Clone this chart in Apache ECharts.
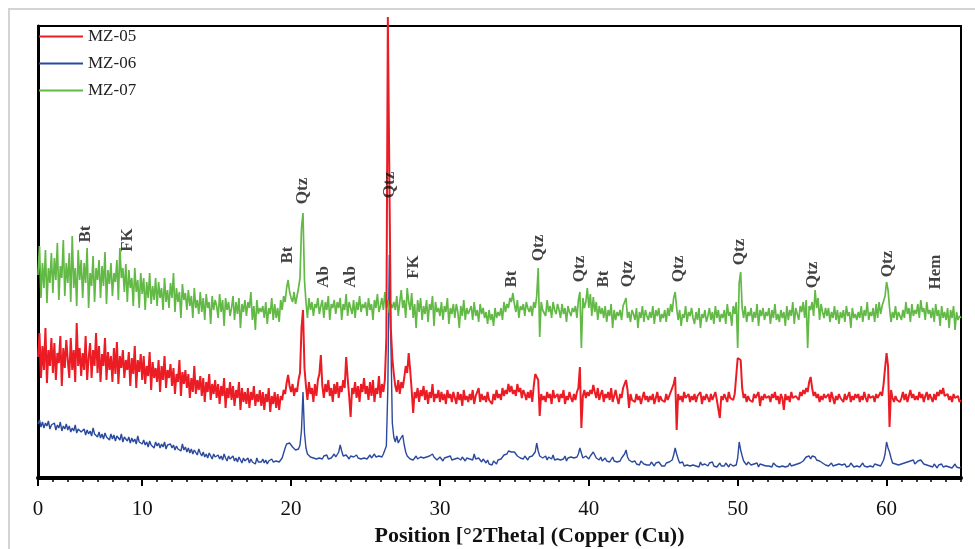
<!DOCTYPE html>
<html>
<head>
<meta charset="utf-8">
<script src="https://cdn.jsdelivr.net/npm/echarts@6/dist/echarts.min.js"></script>
<style>html,body{margin:0;padding:0;background:#fff}#c{width:975px;height:549px}</style>
</head>
<body>
<div id="c"></div>
<script>
// 2θ sampling grid (degrees)
const thetaStart = 3;
const thetaStep = 0.1;

// Intensities (arbitrary, offset-stacked), one row per degree (x.0 … x.9)
const mz06 = [
54,58,51,56,50,55,52,57,49,53,
51,55,48,53,50,56,47,52,49,54,
48,52,46,50,47,53,45,49,51,46,
45,49,43,48,44,47,42,50,44,46,
41,46,40,44,39,45,41,43,38,44,
39,43,37,42,40,38,44,36,41,39,
37,41,35,40,36,39,34,42,36,38,
34,38,33,36,31,37,33,35,30,36,
32,35,30,34,31,36,29,33,31,34,
30,33,28,32,29,31,27,34,28,31,
26,30,25,29,24,28,26,23,29,25,
22,26,21,24,20,25,22,19,24,21,
20,23,19,22,18,24,20,17,22,19,
18,22,17,20,16,21,18,15,20,17,
17,20,15,19,16,18,14,20,16,18,
16,19,15,18,14,17,15,19,16,18,
17,19,16,18,20,25,30,34,36,35,
33,31,29,28,27,29,33,48,86,45,
30,24,22,21,23,20,22,19,21,20,
21,19,22,20,23,19,21,20,22,24,
21,23,26,33,27,22,20,23,21,19,
22,20,21,19,23,20,22,19,21,20,
22,19,21,23,20,22,24,21,19,22,
23,21,24,28,32,90,223,140,55,41,
36,42,35,38,40,43,33,26,22,20,
19,21,18,20,22,19,17,21,19,20,
18,21,19,22,20,24,21,19,18,20,
21,19,17,20,18,21,19,22,18,20,
19,17,20,22,18,21,19,17,20,18,
19,21,18,24,19,17,20,18,16,19,
17,15,18,14,16,13,17,15,14,18,
16,19,21,23,25,24,27,25,26,24,
26,24,22,23,20,21,19,22,20,18,
21,19,22,20,26,35,27,22,21,20,
19,22,18,21,20,19,23,18,20,19,
21,18,20,19,22,17,20,18,21,19,
20,18,21,24,30,25,20,19,22,21,
19,22,24,26,23,20,19,18,21,17,
18,20,17,19,16,18,21,17,19,16,
18,17,20,22,24,28,21,18,19,16,
15,17,14,16,13,17,15,14,16,13,
15,13,16,14,12,15,13,16,14,12,
14,12,15,13,16,14,18,23,30,24,
19,15,13,16,12,14,13,15,12,14,
13,15,12,14,11,16,13,12,14,13,
12,15,13,16,12,14,11,13,15,12,
14,12,15,13,11,14,16,12,14,13,
20,36,28,22,17,15,13,16,14,13,
12,14,13,15,11,14,12,13,15,12,
14,12,13,11,15,13,12,14,11,13,
12,14,11,13,12,15,12,14,13,12,
14,13,15,14,17,19,21,20,22,19,
22,20,21,18,19,17,16,15,14,13,
14,12,13,15,12,14,13,11,14,12,
13,12,14,11,13,12,15,13,11,13,
12,14,11,13,15,12,14,11,13,12,
13,11,14,12,13,15,12,14,18,24,
36,30,26,20,15,13,14,12,13,15,
14,12,15,13,16,14,17,15,18,14,
16,17,15,18,16,14,15,13,14,12,
13,11,14,12,10,13,12,14,11,13,
12,14,11,13,10,12,14,11,13,10,
11];

const mz05 = [
121,145,100,132,108,150,95,128,112,140,
105,135,98,125,115,142,92,130,110,138,
118,100,140,108,128,96,155,112,130,102,
125,108,142,98,120,135,100,128,112,145,
105,132,96,124,112,140,98,126,108,122,
96,130,104,136,94,122,110,128,100,118,
108,126,92,120,104,132,90,118,106,124,
98,122,94,112,102,126,88,116,100,110,
96,118,86,112,98,122,90,108,100,114,
92,110,84,104,96,118,82,106,94,108,
90,104,80,100,86,112,84,98,88,102,
82,100,76,96,86,104,78,94,84,98,
80,94,74,92,82,100,70,90,80,96,
78,92,72,88,80,96,68,90,76,86,
74,90,70,86,78,92,72,84,76,88,
72,86,68,84,76,90,66,82,74,86,
70,84,68,82,78,88,84,95,103,92,
86,94,82,90,86,98,105,150,168,110,
92,78,96,84,90,76,94,82,98,104,
123,92,80,94,86,98,82,90,76,94,
84,96,80,92,86,98,90,121,100,82,
61,90,84,96,80,92,76,94,86,100,
84,92,78,96,82,98,76,90,84,102,
80,94,86,98,140,461,461,150,120,104,
92,86,98,84,96,90,100,112,105,125,
108,88,65,86,80,90,76,88,82,92,
78,88,74,86,80,94,76,84,80,88,
76,86,78,84,74,88,80,84,76,86,
80,74,86,78,84,72,88,78,82,76,
84,78,88,74,82,80,90,76,84,78,
82,76,86,78,80,74,84,78,88,80,
84,78,90,82,88,84,94,86,92,84,
88,82,94,86,90,80,88,84,78,86,
80,88,76,92,104,105,98,62,84,78,
82,76,86,80,84,74,88,80,78,84,
76,84,80,88,74,82,78,86,80,76,
84,78,86,90,111,50,82,88,80,86,
82,88,84,93,86,80,90,78,84,88,
76,84,80,86,78,90,76,82,88,80,
74,84,80,90,92,98,88,70,84,78,
80,76,84,78,82,74,80,86,78,82,
76,82,78,84,74,80,86,76,82,78,
80,76,84,78,82,86,88,94,101,48,
84,78,82,76,86,80,78,84,76,82,
78,84,76,82,80,86,74,82,78,84,
80,76,84,78,82,86,78,80,60,82,
78,84,80,76,86,80,82,78,84,86,
120,120,118,90,80,84,76,82,78,80,
76,84,80,78,86,72,82,78,84,80,
78,82,76,84,80,86,78,82,74,84,
80,68,84,78,82,76,86,80,78,82,
84,78,86,82,88,84,90,86,96,101,
90,82,86,80,84,76,82,78,84,80,
78,84,76,86,80,74,82,78,84,80,
82,76,84,78,80,86,76,82,78,84,
80,84,76,82,78,86,80,76,84,80,
78,82,76,84,80,78,86,82,94,110,
125,112,51,88,80,76,82,78,80,76,
80,86,78,84,76,82,88,80,84,78,
82,78,86,80,84,76,82,86,78,84,
80,76,84,78,86,82,88,84,90,82,
80,84,78,82,76,84,80,78,82,76,
78];

const mz07 = [
203,232,180,215,190,228,175,210,195,225,
185,220,198,235,178,212,200,238,182,215,
195,225,176,242,190,210,172,228,198,218,
180,215,195,230,170,205,192,222,176,210,
198,218,180,212,192,226,174,208,194,215,
182,205,196,218,178,230,200,210,186,214,
176,208,190,200,172,210,186,198,170,205,
184,200,168,196,180,205,174,192,178,200,
172,196,180,190,168,200,176,188,170,195,
180,205,166,190,176,186,160,194,178,185,
168,188,172,182,160,190,170,178,164,186,
166,180,158,184,170,176,154,182,168,178,
172,160,184,166,178,152,180,168,176,162,
170,182,158,176,164,180,150,174,166,178,
162,176,170,186,158,172,148,178,164,170,
166,172,160,176,154,170,164,180,158,174,
160,170,156,178,168,182,176,190,198,186,
180,176,186,174,182,190,200,250,265,198,
176,160,180,168,176,162,174,170,180,164,
172,178,160,176,168,182,158,174,170,178,
164,176,170,180,158,174,168,184,162,176,
170,164,178,160,176,168,182,166,174,170,
176,162,180,168,174,158,178,170,184,166,
172,180,168,186,170,178,165,174,170,176,
168,182,162,176,188,170,178,160,190,176,
168,185,160,174,150,178,166,180,158,172,
164,178,156,174,168,182,152,176,166,170,
162,176,158,172,166,180,154,170,164,174,
160,174,166,150,172,162,178,158,170,164,
166,172,158,176,162,168,156,174,164,170,
160,166,154,168,158,164,152,170,160,166,
162,170,158,176,166,174,170,180,176,185,
174,166,178,160,172,168,174,162,176,170,
166,172,162,176,170,182,210,141,176,168,
170,162,178,166,172,160,176,168,164,174,
168,160,174,164,170,156,172,166,162,170,
166,172,160,178,186,130,180,170,176,190,
170,184,162,181,166,176,158,172,164,170,
160,172,156,168,162,174,150,168,158,166,
162,168,158,172,170,180,160,166,156,168,
164,158,170,150,166,160,172,156,168,162,
158,166,160,172,154,168,162,170,156,164,
160,168,156,170,162,174,166,180,186,170,
158,168,152,164,160,172,156,166,162,170,
160,154,166,158,170,150,164,160,168,156,
162,170,158,166,154,172,160,168,156,164,
160,168,154,174,162,166,152,172,164,176,
130,195,206,170,160,172,156,166,162,170,
156,166,160,174,152,168,162,170,158,166,
162,170,154,168,160,174,158,164,156,168,
160,166,152,172,158,168,162,176,154,170,
164,158,172,166,176,160,178,130,172,168,
176,162,188,170,180,158,174,166,160,170,
162,170,156,166,160,172,158,168,154,166,
160,168,156,172,162,166,150,170,160,164,
158,166,160,172,156,168,162,176,158,166,
162,170,156,174,160,176,164,172,170,182,
196,188,170,156,166,160,172,158,166,162,
158,168,160,176,164,170,156,174,162,168,
164,174,160,178,166,170,158,176,164,168,
160,170,156,174,162,168,152,172,160,166,
158,170,150,168,160,172,148,166,158,162,
160];

const seriesNames = ['MZ-05', 'MZ-06', 'MZ-07'];

// Phase annotations
const phaseNames = ['Bt','FK','Bt','Qtz','Ab','Ab','Qtz','FK','Bt','Qtz','Qtz','Bt','Qtz','Qtz','Qtz','Qtz','Qtz','Hem'];
const phaseTheta = [6.2, 9.05, 19.8, 20.8, 22.2, 24.0, 26.6, 28.2, 34.8, 36.6, 39.4, 41.0, 42.6, 46.0, 50.1, 55.05, 60.1, 63.3];
const phaseLevel = [244, 238, 223, 287, 201, 201, 293, 211, 199, 230, 209, 199, 204, 209, 226, 203, 214, 206];

// Axis ticks
const majorTickValues = [3, 10, 20, 30, 40, 50, 60];
const majorTickLabels = ['0', '10', '20', '30', '40', '50', '60'];
const xTitle = 'Position [°2Theta] (Copper (Cu))';

function toXY(arr) {
  return arr.map((v, i) => [Math.round((thetaStart + i * thetaStep) * 10) / 10, v]);
}
const minorTicks = [];
for (let t = 4; t <= 65; t++) if (majorTickValues.indexOf(t) < 0) minorTicks.push(t);

const serif = 'Liberation Serif';
const chart = echarts.init(document.getElementById('c'), null, {renderer: 'canvas'});
chart.setOption({
  animation: false,
  backgroundColor: '#fff',
  graphic: [{
    type: 'rect', silent: true, z: -10,
    shape: {x: 9, y: 9, width: 990, height: 570},
    style: {fill: 'none', stroke: '#d4d4d4', lineWidth: 2}
  }],
  grid: {left: 38, right: 14, top: 26, bottom: 71, show: true, borderColor: '#000', borderWidth: 2, backgroundColor: 'transparent', containLabel: false, outerBoundsMode: 'none'},
  legend: {
    orient: 'vertical', left: 39, top: 28, itemGap: 10, padding: 0,
    itemWidth: 44, itemHeight: 2, icon: 'rect',
    data: seriesNames,
    textStyle: {fontFamily: serif, fontSize: 17, color: '#222', lineHeight: 17}
  },
  xAxis: [{
    type: 'value', min: 3, max: 65,
    axisLine: {show: true, lineStyle: {color: '#000', width: 4}},
    axisTick: {show: true, customValues: majorTickValues, length: 8, lineStyle: {color: '#000', width: 2}},
    axisLabel: {customValues: majorTickValues, formatter: v => majorTickLabels[majorTickValues.indexOf(v)], fontFamily: serif, fontSize: 21, color: '#111', margin: 21},
    splitLine: {show: false},
    name: xTitle, nameLocation: 'middle', nameGap: 42,
    nameTextStyle: {fontFamily: serif, fontSize: 22, fontWeight: 'bold', color: '#111', padding: [0, 0, 0, 60]}
  }, {
    type: 'value', min: 3, max: 65, position: 'bottom',
    axisLine: {show: false},
    axisTick: {show: true, customValues: minorTicks, length: 4, lineStyle: {color: '#000', width: 1.5}},
    axisLabel: {show: false},
    splitLine: {show: false}
  }],
  yAxis: {
    type: 'value', min: 0, max: 452,
    axisLine: {show: true, lineStyle: {color: '#000', width: 3}},
    axisTick: {show: false}, axisLabel: {show: false}, splitLine: {show: false}
  },
  series: [
    {name: 'MZ-06', type: 'line', data: toXY(mz06), symbol: 'none', clip: false, color: '#2b4a9e', lineStyle: {width: 1.4}, z: 2},
    {name: 'MZ-07', type: 'line', data: toXY(mz07), symbol: 'none', clip: false, color: '#62b946', lineStyle: {width: 1.7}, z: 3},
    {name: 'MZ-05', type: 'line', data: toXY(mz05), symbol: 'none', clip: false, color: '#ec1c24', lineStyle: {width: 2}, z: 4},
    {
      type: 'scatter', symbolSize: 1, itemStyle: {color: 'rgba(0,0,0,0)'}, z: 10, silent: true,
      data: phaseNames.map((n, i) => ({name: n, value: [phaseTheta[i], phaseLevel[i]]})),
      label: {show: true, position: 'inside', rotate: 90, formatter: '{b}', fontFamily: serif, fontWeight: 'bold', fontSize: 17, color: '#111'}
    }
  ]
});
</script>
</body>
</html>
